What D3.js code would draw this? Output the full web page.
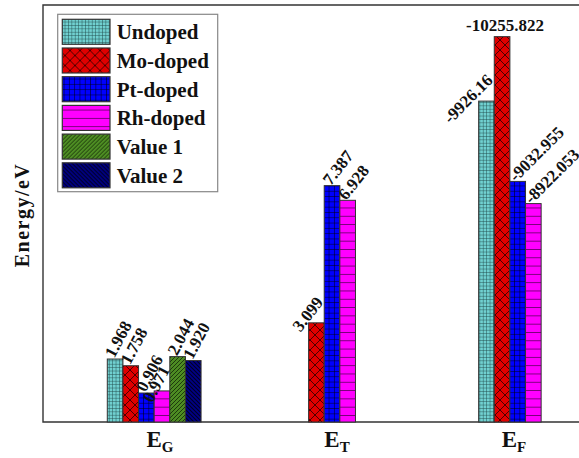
<!DOCTYPE html>
<html>
<head>
<meta charset="utf-8">
<script src="https://cdn.jsdelivr.net/npm/d3@7"></script>
<style>
  body { margin: 0; background: #fff; }
  text { font-family: "Liberation Serif", "Times New Roman", serif; font-weight: bold; fill: #111; }
</style>
</head>
<body>
<svg id="chart"></svg>
<script>
// categories and series
const groups = ["G", "T", "F"];           // subscripts of E
const series = ["Undoped", "Mo-doped", "Pt-doped", "Rh-doped", "Value 1", "Value 2"];

// values per series, one per group (null = no bar)
const undoped = [1.968, null, -9926.16];
const moDoped = [1.758, 3.099, -10255.822];
const ptDoped = [0.906, 7.387, -9032.955];
const rhDoped = [0.971, 6.928, -8922.053];
const value1 = [2.044, null, null];
const value2 = [1.920, null, null];
const seriesValues = [undoped, moDoped, ptDoped, rhDoped, value1, value2];

// E_G and E_T share a linear energy axis; E_F magnitudes use a broken axis
const lowDomain = [0, 8];
const lowHeight = [0, 256];
const breakDomain = [0, 8800, 9100, 9850, 10300];
const breakHeight = [0, 194, 254, 306, 394];

const width = 579, height = 458;
const plotLeft = 43, plotTop = 5, plotBottom = 422;

const svg = d3.select("#chart").attr("width", width).attr("height", height);

const fills = ["pUndoped", "pMo", "pPt", "pRh", "pV1", "pV2"];
const defs = svg.append("defs");

function pattern(id, w, h, bg, path, stroke, sw) {
  const p = defs.append("pattern").attr("id", id)
    .attr("patternUnits", "userSpaceOnUse").attr("width", w).attr("height", h);
  p.append("rect").attr("width", w).attr("height", h).attr("fill", bg);
  p.append("path").attr("d", path).attr("stroke", stroke).attr("stroke-width", sw).attr("fill", "none");
}
pattern("pUndoped", 3.4, 3.4, "#70d0d0", "M0,0H3.4M0,0V3.4", "#1d4545", 0.9);
pattern("pMo", 10, 10, "#e00000", "M0,0L10,10M10,0L0,10", "#3a0000", 0.9);
pattern("pPt", 5.3, 5.3, "#0000ff", "M0,0H5.3M0,0V5.3", "#000", 1);
pattern("pRh", 10, 8.3, "#ff00ff", "M0,0H10", "#2a002a", 1.2);
pattern("pV1", 4, 4, "#4d8c23", "M0,4L4,0M-1,1L1,-1M3,5L5,3", "#1e3a0c", 1);
pattern("pV2", 4, 4, "#000088", "M0,0L4,4M-1,3L1,5M3,-1L5,1", "#000022", 1.1);

const x0 = d3.scaleBand().domain(groups).range([107.3, 572.4]).paddingInner(0.495);
const x1 = d3.scaleBand().domain(series).range([0, x0.bandwidth()]);
const yLow = d3.scaleLinear().domain(lowDomain).range(lowHeight.map(h => plotBottom - h));
const yBroken = d3.scaleLinear().domain(breakDomain).range(breakHeight.map(h => plotBottom - h));
const yOf = [yLow, yLow, yBroken];
const xLabel = d3.scalePoint().domain(groups).range([160, 514]);

// frame
svg.append("path")
  .attr("d", `M${width + 5},${plotTop}H${plotLeft}V${plotBottom}H${width + 5}`)
  .attr("fill", "none").attr("stroke", "#333").attr("stroke-width", 1.4);

// bars
const bars = [];
series.forEach((s, i) => {
  seriesValues[i].forEach((v, g) => {
    if (v !== null) bars.push({ s, i, g: groups[g], gi: g, v, top: yOf[g](Math.abs(v)) });
  });
});

svg.append("g").selectAll("rect").data(bars).join("rect")
  .attr("x", d => x0(d.g) + x1(d.s))
  .attr("y", d => d.top)
  .attr("width", x1.bandwidth())
  .attr("height", d => plotBottom - d.top)
  .attr("fill", d => `url(#${fills[d.i]})`)
  .attr("stroke", "#333").attr("stroke-width", 1);

// value labels
const angles = [-62, -52, -45];
const fmt = v => Math.abs(v) < 100 ? d3.format(".3f")(v) : String(v);
const labels = svg.append("g");
bars.forEach(d => {
  const cx = x0(d.g) + x1(d.s) + x1.bandwidth() / 2;
  const yTop = d.top;
  const a = angles[d.gi];
  const t = labels.append("text").attr("font-size", 17).text(fmt(d.v));
  const len = t.node().getComputedTextLength();
  const next = bars.find(b => b.gi === d.gi && b.i === d.i + 1);
  const nextTaller = next && next.top < yTop - 10;
  if (yTop - 4 - len * Math.sin(-a * Math.PI / 180) < plotTop + 10) {
    t.attr("x", cx + 3).attr("y", yTop - 6).attr("text-anchor", "middle");
  } else if (nextTaller) {
    t.attr("text-anchor", "end").attr("dy", "0.35em")
      .attr("transform", `translate(${cx + 3},${yTop - 24}) rotate(${a})`);
  } else {
    t.attr("text-anchor", "start").attr("dy", "0.35em")
      .attr("transform", `translate(${cx - 6},${yTop - 3}) rotate(${a})`);
  }
});

// x category labels
const xl = svg.append("g").selectAll("text").data(groups).join("text")
  .attr("x", d => xLabel(d)).attr("y", 447)
  .attr("text-anchor", "middle").attr("font-size", 23);
xl.append("tspan").text("E");
xl.append("tspan").attr("font-size", 15).attr("dy", 5).text(d => d);

// y title
svg.append("text")
  .attr("transform", "translate(29,215) rotate(-90)")
  .attr("text-anchor", "middle").attr("font-size", 20)
  .attr("letter-spacing", "1.5px")
  .text("Energy/eV");

// legend
const lg = svg.append("g");
lg.append("rect").attr("x", 57.7).attr("y", 14.3).attr("width", 160).attr("height", 177.4)
  .attr("fill", "#fff").attr("stroke", "#888").attr("stroke-width", 1.2);
const rows = lg.selectAll("g").data(series).join("g")
  .attr("transform", (d, i) => `translate(0,${31.8 + i * 28.7})`);
rows.append("rect").attr("x", 62.3).attr("y", -12.5).attr("width", 47.7).attr("height", 25)
  .attr("fill", (d, i) => `url(#${fills[i]})`).attr("stroke", "#333").attr("stroke-width", 1.2);
rows.append("text").attr("x", 116.7).attr("dy", "0.35em").attr("font-size", 21).text(d => d);
</script>
</body>
</html>
